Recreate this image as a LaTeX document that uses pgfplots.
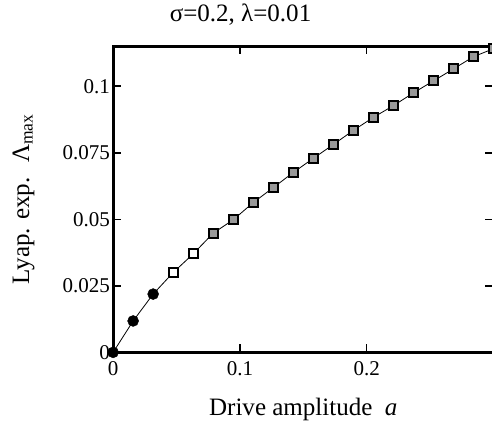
\documentclass[border=0pt]{standalone}
\usepackage{fontspec}
\setmainfont{Liberation Serif}
\usepackage{pgfplots}
\pgfplotsset{compat=1.18}
\pgfplotstableread{
x y
0        0
0.015789 0.0118
0.031579 0.0219
}\circ
\pgfplotstableread{
x y
0.047368 0.0300
0.063158 0.0370
}\whitesq
\pgfplotstableread{
x y
0.078947 0.0448
0.094737 0.0498
0.110526 0.0563
0.126316 0.0619
0.142105 0.0676
0.157895 0.0729
0.173684 0.0781
0.189474 0.0834
0.205263 0.0883
0.221053 0.0927
0.236842 0.0975
0.252632 0.1020
0.268421 0.1065
0.284211 0.1111
0.3      0.1141
}\graysq
\newcommand\tickfont{\fontsize{21bp}{25bp}\selectfont}
\newcommand\labfont{\fontsize{25bp}{30bp}\selectfont}
\begin{document}
\begin{tikzpicture}
\begin{axis}[
  scale only axis, width=380bp, height=306bp,
  xmin=0, xmax=0.3, ymin=0, ymax=0.1151,
  xtick={0,0.1,0.2}, xticklabels={{\tickfont 0},{\tickfont 0.1},{\tickfont 0.2}},
  ytick={0,0.025,0.05,0.075,0.1},
  yticklabels={{\tickfont 0},{\tickfont 0.025},{\tickfont 0.05},{\tickfont 0.075},{\tickfont 0.1}},
  tick align=inside, major tick length=8bp,
  tick style={line width=1.5bp, black},
  axis line style={line width=3bp},
  tick label style={font=\tickfont, inner sep=2bp},
  xticklabel style={yshift=-7bp},
  yticklabel style={xshift=-1bp},
  title={σ=0.2, λ=0.01},
  title style={font=\labfont, at={(axis description cs:0.335,1)}, anchor=base, yshift=19bp},
  xlabel={Drive amplitude \ \textit{a}},
  xlabel style={font=\labfont, at={(axis description cs:0.5,0)}, anchor=base, yshift=-63bp},
  ylabel={Lyap. exp. \ Λ\textsubscript{max}},
  ylabel style={font=\labfont, at={(axis description cs:0,0.5)}, anchor=base, yshift=84bp},
  clip=false,
]
\addplot[black, line width=0.8bp, no markers] coordinates {
(0,0) (0.015789,0.0118) (0.031579,0.0219) (0.047368,0.0300) (0.063158,0.0370)
(0.078947,0.0448) (0.094737,0.0498) (0.110526,0.0563) (0.126316,0.0619)
(0.142105,0.0676) (0.157895,0.0729) (0.173684,0.0781) (0.189474,0.0834)
(0.205263,0.0883) (0.221053,0.0927) (0.236842,0.0975) (0.252632,0.1020)
(0.268421,0.1065) (0.284211,0.1111) (0.3,0.1141)};
\addplot[only marks, mark=*, mark size=5.5bp, mark options={fill=black, draw=black}] table {\circ};
\addplot[only marks, mark=square*, mark size=4.5bp, mark options={fill=white, draw=black, line width=2bp}] table {\whitesq};
\addplot[only marks, mark=square*, mark size=4.5bp, mark options={fill=black!40, draw=black, line width=2bp}] table {\graysq};
\end{axis}
\pgfresetboundingbox
\path[use as bounding box] ([xshift=-113bp, yshift=-73bp]current axis.south west) rectangle ([xshift=-1.5bp, yshift=46bp]current axis.north east);
\end{tikzpicture}
\end{document}
